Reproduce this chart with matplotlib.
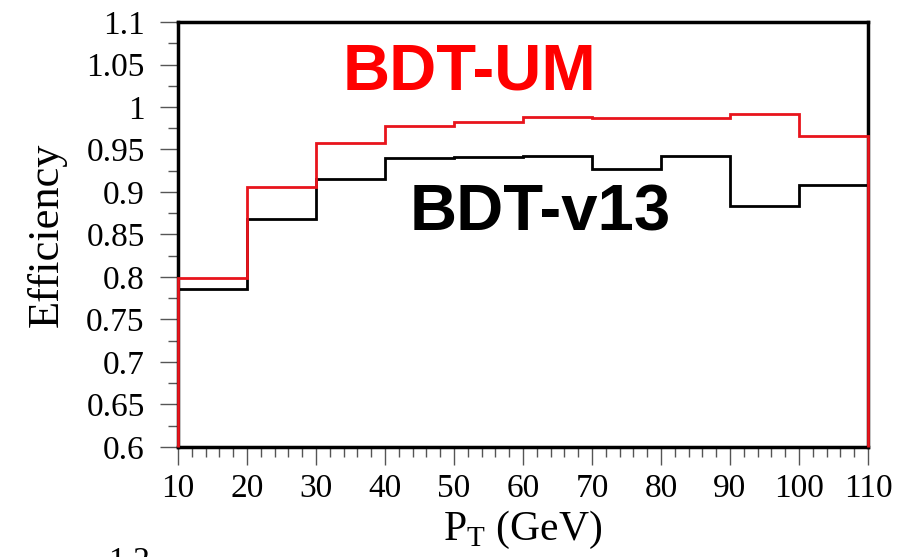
import matplotlib.pyplot as plt
import numpy as np
from matplotlib.ticker import MultipleLocator, FixedFormatter, FixedLocator

plt.rcParams["font.family"] = "Liberation Serif"
plt.rcParams["mathtext.fontset"] = "custom"
plt.rcParams["mathtext.rm"] = "Liberation Serif"

# pT bin edges (GeV) and efficiencies
edges = [10, 20, 30, 40, 50, 60, 70, 80, 90, 100, 110]
eff_um = [0.799, 0.906, 0.958, 0.978, 0.982, 0.988, 0.987, 0.987, 0.992, 0.966]
eff_v13 = [0.786, 0.868, 0.915, 0.940, 0.941, 0.942, 0.927, 0.942, 0.883, 0.908]

yticks = [0.6, 0.65, 0.7, 0.75, 0.8, 0.85, 0.9, 0.95, 1.0, 1.05, 1.1]
ylabels = ["0.6", "0.65", "0.7", "0.75", "0.8", "0.85", "0.9", "0.95", "1", "1.05", "1.1"]

fig = plt.figure(figsize=(9.13, 5.57), dpi=100)
ax = fig.add_axes([0.195, 0.1975, 0.7557, 0.763])

ax.stairs(eff_v13, edges, baseline=0.6, color="black", lw=2, zorder=3)
ax.stairs(eff_um, edges, baseline=0.6, color="#e8141c", lw=2, zorder=4, clip_on=False)

ax.set_xlim(10, 110)
ax.set_ylim(0.6, 1.1)

ax.xaxis.set_major_locator(MultipleLocator(10))
ax.xaxis.set_minor_locator(MultipleLocator(2))
ax.yaxis.set_major_locator(FixedLocator(yticks))
ax.yaxis.set_major_formatter(FixedFormatter(ylabels))
ax.yaxis.set_minor_locator(MultipleLocator(0.025))

ax.tick_params(which="major", direction="out", length=13, width=1, color="#555555", labelsize=24)
ax.tick_params(which="minor", direction="out", length=7, width=1, color="#555555")
ax.tick_params(axis="y", which="major", pad=11)
ax.tick_params(axis="x", which="major", pad=6)
for s in ax.spines.values():
    s.set_linewidth(2.5)

ax.set_ylabel("Efficiency", fontsize=32, labelpad=14)
ax.set_xlabel(r"P$_{\rm T}$ (GeV)", fontsize=30, labelpad=4)

ax.text(0.422, 0.882, "BDT-UM", transform=ax.transAxes, color="#ff0000",
        fontsize=47, fontweight="bold", family="Liberation Sans", ha="center", va="center")
ax.text(0.525, 0.55, "BDT-v13", transform=ax.transAxes, color="black",
        fontsize=47, fontweight="bold", family="Liberation Sans", ha="center", va="center")

# top of the next panel's axis label, cut by the image edge
fig.text(0.141, 1 - 547 / 557, "1.2", fontsize=24, ha="center", va="top")

fig.savefig("out.png", dpi=100)
